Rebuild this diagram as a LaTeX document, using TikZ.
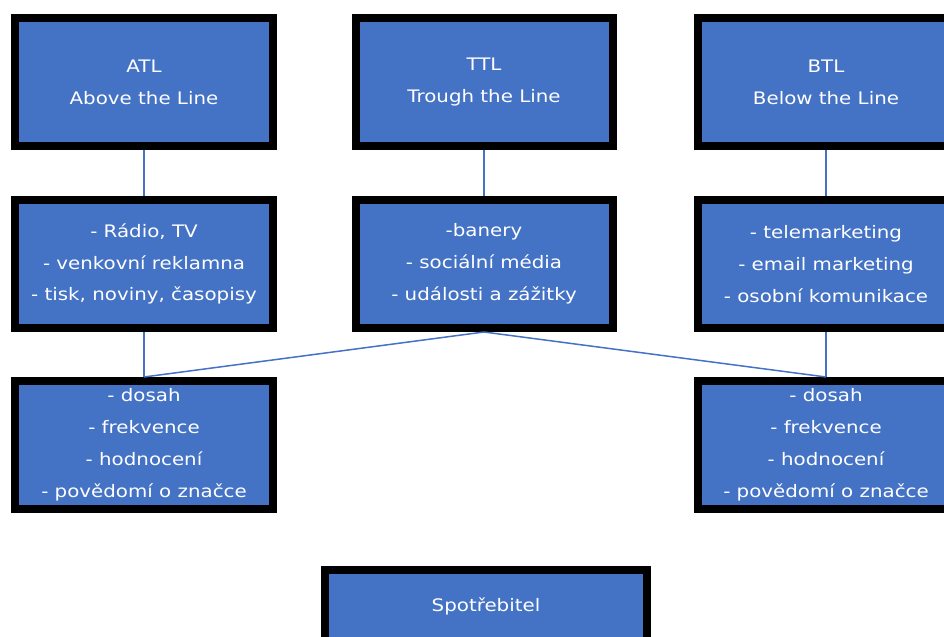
\documentclass[tikz,border=0pt]{standalone}
\usepackage{fontspec}
\setmainfont[FakeStretch=1.15]{DejaVu Sans}
\definecolor{bleu}{HTML}{4472C4}
\begin{document}
\begin{tikzpicture}[x=1bp, y=-1bp]
\tikzstyle{bloc} = [draw=black, line width=8bp, fill=bleu, text=white, align=center, inner sep=0pt, minimum width=257bp, minimum height=128bp, font={\fontsize{17.3}{32}\selectfont}];
\tikzstyle{lien} = [draw=bleu, line width=1.5bp];
\useasboundingbox (0,0) rectangle (944,637);
\clip (0,0) rectangle (944,637);

\node[bloc] (atl) at (144, 82) {ATL\\Above the Line};
\node[bloc] (ttl) at (484, 82) {TTL\\Trough the Line};
\node[bloc] (btl) at (826, 82) {BTL\\Below the Line};

\node[bloc] (atlmedia) at (144, 264) {- Rádio, TV\\- venkovní reklamna\\- tisk, noviny, časopisy};
\node[bloc] (ttlmedia) at (484, 264) {-banery\\- sociální média\\- události a zážitky};
\node[bloc] (btlmedia) at (826, 264) {- telemarketing\\- email marketing\\- osobní komunikace};

\node[bloc] (atlcil) at (144, 445) {- dosah\\- frekvence\\- hodnocení\\- povědomí o značce};
\node[bloc] (btlcil) at (826, 445) {- dosah\\- frekvence\\- hodnocení\\- povědomí o značce};

\node[bloc, minimum width=322bp, minimum height=72bp] (spot) at (486, 606) {Spotřebitel};

\draw[lien] (atl) -- (atlmedia);
\draw[lien] (ttl) -- (ttlmedia);
\draw[lien] (btl) -- (btlmedia);
\draw[lien] (atlmedia) -- (atlcil);
\draw[lien] (btlmedia) -- (btlcil);
\draw[lien] (ttlmedia.south) -- (atlcil.north);
\draw[lien] (ttlmedia.south) -- (btlcil.north);
\end{tikzpicture}
\end{document}
